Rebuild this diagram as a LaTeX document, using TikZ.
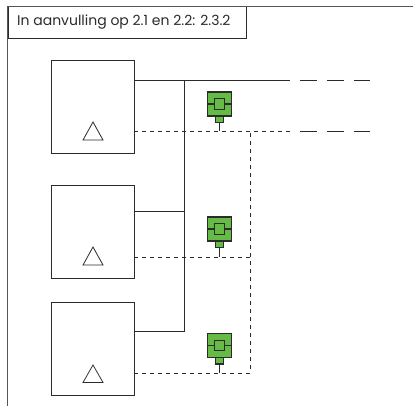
\documentclass[tikz,border=0pt]{standalone}
\usepackage{fontspec}
\setmainfont{Poppins}
\definecolor{sgreen}{HTML}{66BB46}
\definecolor{ink}{HTML}{2B2B2B}
\definecolor{framegray}{HTML}{555555}
\tikzset{
  x=1pt,y=-1pt,
  line/.style={draw=ink,line width=0.8pt},
  frame/.style={draw=framegray,line width=1.2pt},
  unit/.style={line,rectangle,minimum width=83pt,minimum height=93pt,inner sep=0pt,fill=white},
  tri/.style={line,line join=miter},
  short/.style={line,dash pattern=on 4pt off 4pt},
  long/.style={line,dash pattern=on 16.5pt off 10.5pt},
  sbody/.style={draw=ink,line width=1.4pt,fill=sgreen,minimum width=24pt,minimum height=24pt,inner sep=0pt},
  sinner/.style={draw=ink,line width=1.4pt,fill=sgreen,minimum width=10.5pt,minimum height=10.5pt,inner sep=0pt},
  sfoot/.style={draw=ink,line width=1.4pt,fill=sgreen,minimum width=7.5pt,minimum height=7pt,inner sep=0pt},
  bar/.style={draw=ink,line width=1.2pt},
  stem/.style={draw=ink,line width=0.8pt},
}
\begin{document}
\begin{tikzpicture}
\useasboundingbox (0,0) rectangle (413,406);
% frame
\coordinate (ftl) at (7.5,6.5);
\coordinate (ftr) at (413,6.5);
\coordinate (fbl) at (7.5,406);
\node[anchor=north west,draw=ink,line width=0.8pt,minimum width=238.5pt,minimum height=32pt,inner sep=0pt] (hdr) at (7.5,6.5) {};
\draw[frame] (ftl) -- (ftr);
\draw[frame] (ftl) -- (fbl);
\node[anchor=west,inner sep=0pt,font=\fontsize{14}{16}\selectfont,text=ink] (hdrt) at (17,22.5) {In aanvulling op 2.1 en 2.2: 2.3.2};
% units
\node[unit] (a) at (92.5,106.5) {};
\node[unit] (b) at (92.5,232) {};
\node[unit] (c) at (92.5,349) {};
\draw[tri] (93,122) -- (103,140) -- (83,140) -- cycle;
\draw[tri] (93,247) -- (103,265) -- (83,265) -- cycle;
\draw[tri] (93,365) -- (103,382.5) -- (83,382.5) -- cycle;
% coordinates
\coordinate (a1) at (134,80);
\coordinate (a2) at (134,131);
\coordinate (b1) at (134,211);
\coordinate (b2) at (134,257);
\coordinate (c1) at (134,331);
\coordinate (c2) at (134,373);
\coordinate (bus1) at (184,80);
\coordinate (bus2) at (184,211);
\coordinate (bus3) at (184,331);
\coordinate (s1e) at (290,80);
\coordinate (l1a) at (300,80);
\coordinate (l1b) at (370,80);
\coordinate (s2e) at (290,131);
\coordinate (l2a) at (300,131);
\coordinate (l2b) at (370,131);
\coordinate (d1) at (250,131);
\coordinate (d2) at (250,257);
\coordinate (d3) at (250,373);
% solid
\draw[line] (a1) -- (s1e);
\draw[long] (l1a) -- (l1b);
\draw[line] (bus1) -- (bus3) -- (c1);
\draw[line] (b1) -- (bus2);
% dashed
\draw[short] (a2) -- (s2e);
\draw[long] (l2a) -- (l2b);
\draw[short] (b2) -- (d2);
\draw[short] (c2) -- (d3) -- (d1);
% sensors
\foreach \n/\y/\t in {p/104/131,q/229/257,r/345.5/373}{
  \coordinate (\n t) at (219.5,\t);
  \node[sfoot] (\n f) at (219.5,\y+15) {};
  \draw[stem] (\n f.south) -- (\n t);
  \node[sbody] (\n b) at (219.5,\y) {};
  \node[sinner] (\n i) at (219.5,\y) {};
  \draw[bar] (\n b.west) -- (\n i.west);
  \draw[bar] (\n i.east) -- (\n b.east);
}
\end{tikzpicture}
\end{document}
